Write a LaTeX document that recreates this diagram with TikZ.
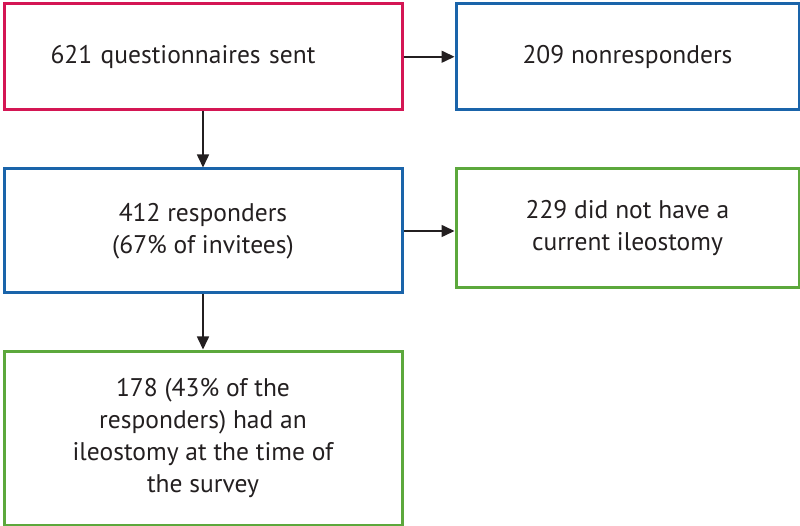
\documentclass[tikz,border=0pt]{standalone}
\usepackage{fontspec}
\setmainfont{PT Sans}
\usetikzlibrary{arrows.meta}
\definecolor{boxred}{RGB}{212,22,84}
\definecolor{boxblue}{RGB}{26,100,170}
\definecolor{boxgreen}{RGB}{92,168,60}
\definecolor{arrowgray}{RGB}{35,31,32}
\tikzset{
  box/.style={draw, line width=3pt, minimum width=398pt, align=center,
    font=\fontsize{25.5}{32}\selectfont, text=arrowgray, anchor=north west, inner sep=0pt},
  flow/.style={-{Triangle[length=13pt,width=12pt]}, line width=1.6pt, draw=arrowgray}
}
\begin{document}
\begin{tikzpicture}[x=1pt,y=-1pt]
\useasboundingbox (0,0) rectangle (800,526);
\node[box,draw=boxred,minimum height=105.5pt,align=left,text width=305pt,inner xsep=46.5pt] (sent) at (2.5,2.5) {621 questionnaires sent};
\node[box,draw=boxblue,minimum width=343pt,minimum height=105.5pt] (nonresp) at (454.5,2.5) {209 nonresponders};
\node[box,draw=boxblue,minimum height=124pt] (resp) at (2.5,167.5) {412 responders\\(67\% of invitees)};
\node[box,draw=boxgreen,minimum width=343pt,minimum height=118.5pt] (noileo) at (454.5,167.5) {229 did not have a\\current ileostomy};
\node[box,draw=boxgreen,minimum height=174pt] (ileo) at (2.5,349.5) {178 (43\% of the\\responders) had an\\ileostomy at the time of\\the survey};
\draw[flow] (sent.east) -- (nonresp.west);
\draw[flow] (sent.south) -- (resp.north);
\draw[flow] (resp.east) -- (resp.east -| noileo.west);
\draw[flow] (resp.south) -- (ileo.north);
\end{tikzpicture}
\end{document}
